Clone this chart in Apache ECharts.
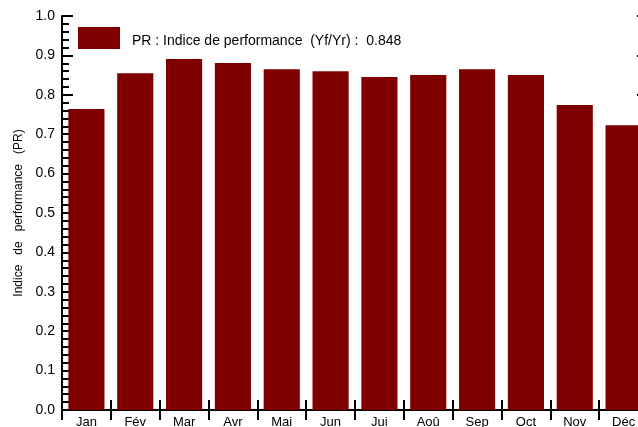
<!DOCTYPE html>
<html><head><meta charset="utf-8">
<script src="https://cdn.jsdelivr.net/npm/echarts@6/dist/echarts.min.js"></script>
<style>html,body{margin:0;padding:0;background:#fff}#c{width:638px;height:427px}</style>
</head><body><div id="c"></div>
<script>
const categories = ['Jan','Fév','Mar','Avr','Mai','Jun','Jui','Aoû','Sep','Oct','Nov','Déc'];
const prValues = [0.764,0.855,0.891,0.881,0.865,0.860,0.845,0.850,0.865,0.850,0.774,0.723];
const seriesName = 'PR : Indice de performance  (Yf/Yr) :  0.848';
const yAxisName = 'Indice   de   performance   (PR)';

const font = 'Liberation Sans, Arial, sans-serif';
const chart = echarts.init(document.getElementById('c'), null, {renderer:'canvas'});
const lineStyle = {color:'#000', width:2};
chart.setOption({
  animation:false,
  backgroundColor:'#fff',
  grid:{left:62, top:16, width:586, height:394, outerBoundsMode:'none', containLabel:false},
  legend:{
    left:78, top:27, itemWidth:42, itemHeight:22, itemGap:0, padding:0,
    formatter: name => '{t|' + name + '}',
    textStyle:{fontFamily:font, fontSize:14, color:'#000', padding:[0,0,0,7],
      rich:{t:{fontFamily:font, fontSize:14, color:'#000', padding:[7,0,0,0]}}},
    data:[{name:seriesName, icon:'rect'}]
  },
  xAxis:[{
    type:'category', data:categories, position:'bottom',
    axisLine:{lineStyle:lineStyle},
    axisTick:{show:true, inside:true, length:10, lineStyle:{color:'#000', width:2}},
    axisLabel:{fontFamily:font, fontSize:13, color:'#000', margin:6}
  },{
    type:'category', data:categories, position:'top',
    axisLine:{lineStyle:lineStyle},
    axisTick:{show:true, inside:true, length:10, lineStyle:{color:'#000', width:2}},
    axisLabel:{show:false}
  }],
  yAxis:[{
    type:'value', min:0, max:1, interval:0.1, position:'left',
    name:yAxisName, nameLocation:'middle', nameGap:37, nameRotate:90,
    nameTextStyle:{fontFamily:font, fontSize:12, color:'#000'},
    axisLine:{show:true, lineStyle:lineStyle},
    axisTick:{show:true, inside:true, length:11, lineStyle:{color:'#000', width:2}},
    minorTick:{show:true, splitNumber:5, length:7, lineStyle:{color:'#000', width:2}},
    axisLabel:{fontFamily:font, fontSize:14, color:'#000', margin:7, formatter:v=>v.toFixed(1)},
    splitLine:{show:false}
  },{
    type:'value', min:0, max:1, interval:0.1, position:'right',
    axisLine:{show:true, lineStyle:lineStyle},
    axisTick:{show:true, inside:true, length:11, lineStyle:{color:'#000', width:2}},
    minorTick:{show:true, splitNumber:5, length:7, lineStyle:{color:'#000', width:2}},
    axisLabel:{show:false},
    splitLine:{show:false}
  }],
  series:[{
    name:seriesName, type:'bar', data:prValues, barCategoryGap:'26%',
    itemStyle:{color:'#800000'}
  }]
});
</script></body></html>
